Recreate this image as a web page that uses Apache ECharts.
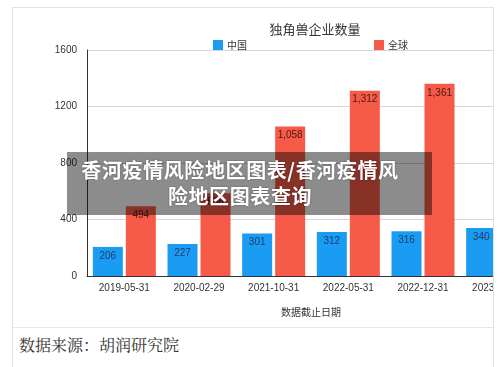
<!DOCTYPE html>
<html><head><meta charset="utf-8">
<script src="https://cdn.jsdelivr.net/npm/echarts@6/dist/echarts.min.js"></script>
<style>
html,body{margin:0;padding:0;background:#fff;width:500px;height:367px;overflow:hidden;font-family:"Noto Sans CJK SC",sans-serif;}
#frame{position:absolute;left:12px;top:7px;width:480px;height:400px;border:1px solid #e2e2e2;overflow:hidden;background:#fff;}
#chart{position:absolute;left:0;top:0;width:480px;height:319px;border-bottom:1px solid #e6e6e6;}
#src{position:absolute;left:6px;top:325px;font-size:16px;color:#333;font-family:"Noto Serif CJK SC","Noto Sans CJK SC",serif;}
#overlay{position:absolute;left:67px;top:152px;width:365px;height:63px;background:rgba(0,0,0,0.45);}
#otext{position:absolute;left:67px;top:157px;width:346px;text-align:center;color:#fff;font-weight:bold;font-size:20px;line-height:26px;letter-spacing:0.6px;font-family:"Noto Sans CJK SC",sans-serif;text-shadow:0 0 2px rgba(0,0,0,0.4);}
</style></head>
<body>
<div id="frame"><div id="chart"></div><div id="src">数据来源：胡润研究院</div></div>
<div id="overlay"></div>
<div id="otext">香河疫情风险地区图表/香河疫情风<br>险地区图表查询</div>
<script>
const categories = ["2019-05-31","2020-02-29","2021-10-31","2022-05-31","2022-12-31","2023-12-31"];
const chinaValues = [206, 227, 301, 312, 316, 340];
const globalValues = [494, 586, 1058, 1312, 1361, 1453];
const yTicks = [0, 400, 800, 1200, 1600];
const seriesNames = ["中国", "全球"];
const titleText = "独角兽企业数量";
const xAxisName = "数据截止日期";

const fmt = p => Number(p.value).toLocaleString('en-US');
const chart = echarts.init(document.getElementById('chart'), null, {renderer:'canvas'});
chart.setOption({
  animation:false,
  textStyle:{fontFamily:'"Noto Sans CJK SC", Arial, sans-serif'},
  title:{text:titleText,left:297,top:10,textAlign:'center',textStyle:{fontSize:13,fontWeight:'normal',color:'#333'}},
  legend:{left:195,top:27,itemWidth:10,itemHeight:10,itemGap:127,icon:'rect',
    textStyle:{fontSize:10,color:'#333',padding:[0,0,0,-1]},data:seriesNames},
  grid:{left:74,top:42,width:448,height:226,containLabel:false,outerBoundsMode:'none'},
  xAxis:{type:'category',data:categories,
    axisLine:{lineStyle:{color:'#333',width:1}},axisTick:{show:false},
    axisLabel:{fontSize:10,color:'#333',margin:7,fontFamily:'Arial, "Liberation Sans", sans-serif'},
    name:xAxisName,nameLocation:'middle',nameGap:31,nameTextStyle:{fontSize:10,color:'#333'}},
  yAxis:{type:'value',min:yTicks[0],max:yTicks[yTicks.length-1],interval:400,
    axisLine:{show:true,lineStyle:{color:'#333',width:1}},axisTick:{show:false},
    axisLabel:{fontSize:10,color:'#333',margin:10,formatter:v=>String(v),fontFamily:'Arial, "Liberation Sans", sans-serif'},
    splitLine:{lineStyle:{color:'#d6d6d6'}}},
  series:[
    {name:seriesNames[0],type:'bar',data:chinaValues,barWidth:30,barGap:'10%',
     itemStyle:{color:'#1a9cf2'},
     label:{show:true,position:'insideTop',distance:4,fontSize:10,color:'#1d3c6e',formatter:fmt,fontFamily:'Arial, sans-serif'}},
    {name:seriesNames[1],type:'bar',data:globalValues,barWidth:30,
     itemStyle:{color:'#f65a48'},
     label:{show:true,position:'insideTop',distance:4,fontSize:10,color:'#4a1a14',formatter:fmt,fontFamily:'Arial, sans-serif'}}
  ]
});
</script>
</body></html>
